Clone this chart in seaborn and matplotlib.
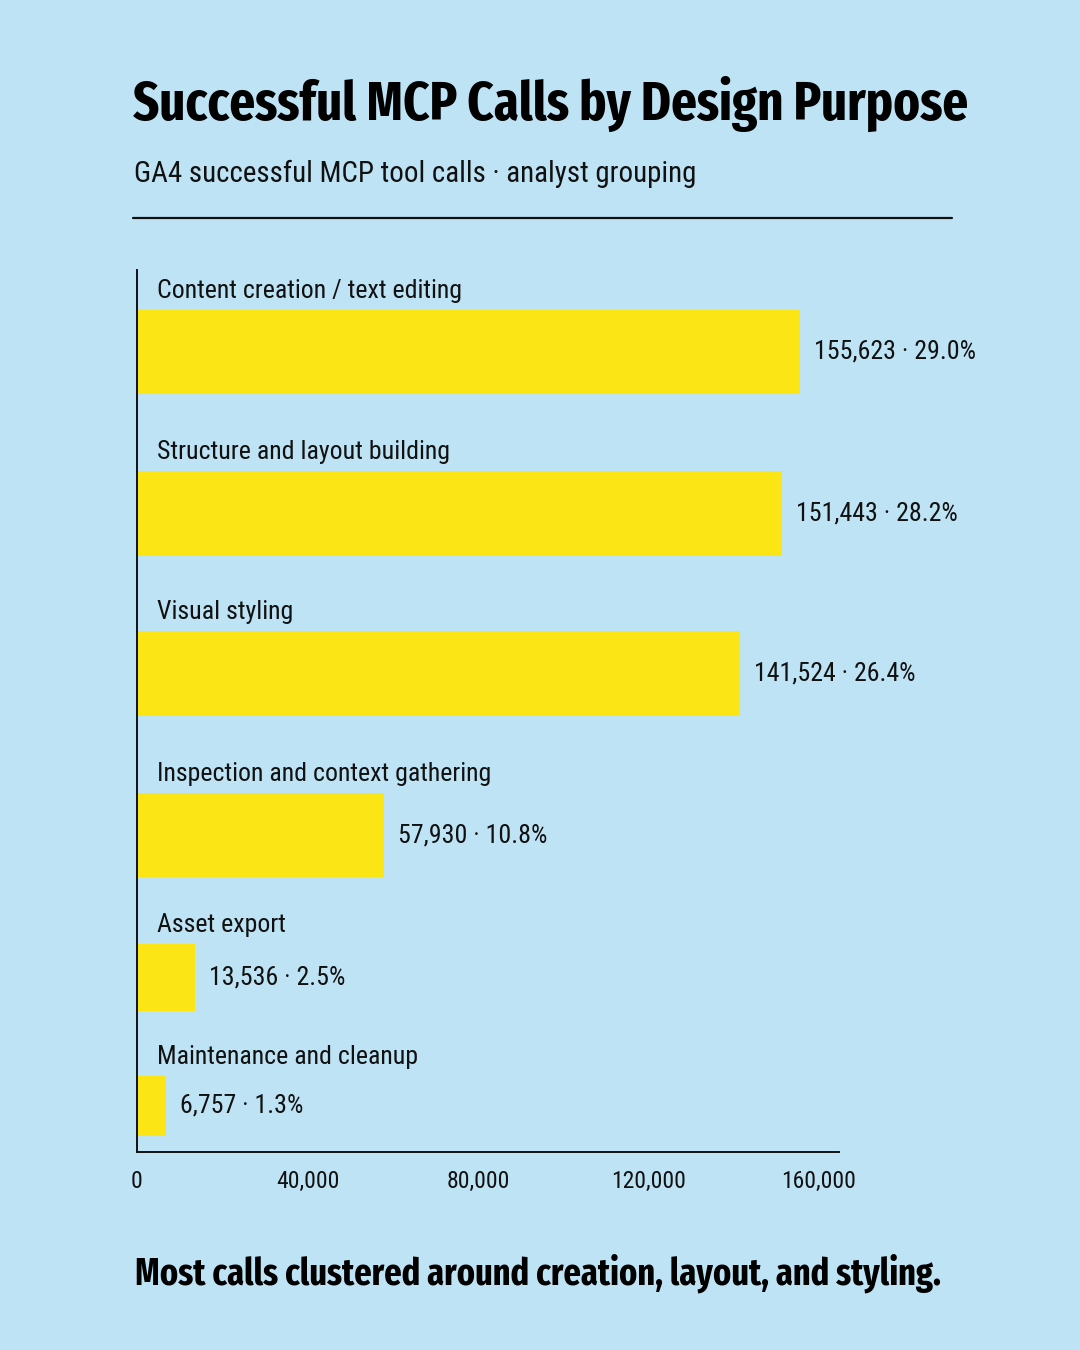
import matplotlib.pyplot as plt
import seaborn as sns
from matplotlib import font_manager
from matplotlib.font_manager import FontProperties
from matplotlib.lines import Line2D

# data
purposes = [
    "Content creation / text editing",
    "Structure and layout building",
    "Visual styling",
    "Inspection and context gathering",
    "Asset export",
    "Maintenance and cleanup",
]
calls = [155623, 151443, 141524, 57930, 13536, 6757]
shares = [29.0, 28.2, 26.4, 10.8, 2.5, 1.3]
xticks = [0, 40000, 80000, 120000, 160000]

title = "Successful MCP Calls by Design Purpose"
subtitle = "GA4 successful MCP tool calls \u00b7 analyst grouping"
footer = "Most calls clustered around creation, layout, and styling."

BG = "#BEE3F5"
YELLOW = "#FCE514"
INK = "#111111"

# layout: rows are spaced unevenly in the reference, bars get thinner at the bottom
row_centers = [0, 1.01, 2.01, 3.02, 3.91, 4.71]
bar_heights = [0.53, 0.53, 0.53, 0.525, 0.42, 0.375]

W, H = 1080, 1350

BODY_FONTS = ["Roboto Condensed", "Archivo Narrow", "PT Sans Narrow",
              "IBM Plex Sans Condensed", "Fira Sans Condensed",
              "Barlow Condensed", "Liberation Sans Narrow", "Saira SemiCondensed"]
# the headline face is much more compressed than the body text
HEAD_FONTS = ["Fira Sans Extra Condensed", "Barlow Condensed",
              "Saira ExtraCondensed", "Encode Sans Compressed",
              "Roboto Condensed", "Archivo Narrow", "Saira SemiCondensed"]


def pick_font(families, bold):
    # first family that has a real file in the wanted weight
    for name in families:
        files = [f for f in font_manager.fontManager.ttflist
                 if f.name == name and f.style == "normal"]
        static = [f for f in files if "[" not in f.fname]
        if bold:
            ok = sorted([f for f in static if 650 <= f.weight <= 800],
                        key=lambda f: abs(f.weight - 700))
        else:
            ok = [f for f in static if 380 <= f.weight <= 420] or \
                 [f for f in files if "[" in f.fname]
        if ok:
            return FontProperties(fname=ok[0].fname)
    return FontProperties(family="DejaVu Sans", weight="bold" if bold else "normal")


def px(x, y):
    return x / W, 1 - y / H


def fit_width(txt, fig, target_px):
    # scale a text until it is about target_px wide
    r = fig.canvas.get_renderer()
    for _ in range(3):
        w = txt.get_window_extent(renderer=r).width
        txt.set_fontsize(txt.get_fontsize() * target_px / w)


sns.set_theme(style="white")
fp_head = pick_font(HEAD_FONTS, True)
fp_reg = pick_font(BODY_FONTS, False)

fig = plt.figure(figsize=(W / 100, H / 100), dpi=100, facecolor=BG)
l, b = px(137, 1152)
r, t = px(839, 270)
ax = fig.add_axes([l, b, r - l, t - b])
ax.set_facecolor(BG)

sns.barplot(x=calls, y=purposes, orient="h", color=YELLOW, saturation=1,
            linewidth=0, ax=ax)
for patch, c, h in zip(ax.patches, row_centers, bar_heights):
    patch.set_y(c - h / 2)
    patch.set_height(h)

ax.set_ylim(5.0, -0.5125)
ax.set_xlim(0, 164700)
ax.set_yticks([])
ax.set_ylabel("")
ax.set_xticks(xticks)
tick_fp = fp_reg.copy()
tick_fp.set_size(17)
ax.set_xticklabels([f"{v:,}" for v in xticks], color=INK, fontproperties=tick_fp)
ax.tick_params(axis="x", direction="in", length=7, width=1.3, color=INK, pad=13)
for side in ["top", "right"]:
    ax.spines[side].set_visible(False)
for side in ["left", "bottom"]:
    ax.spines[side].set_color(INK)
    ax.spines[side].set_linewidth(1.4)

fig.canvas.draw()
label_size = None
for name, v, s, c, h in zip(purposes, calls, shares, row_centers, bar_heights):
    lab = ax.annotate(name, xy=(0, c - h / 2), xytext=(14.4, 8.6),
                      textcoords="offset points", va="baseline", ha="left",
                      fontproperties=fp_reg, color=INK)
    ax.annotate(f"{v:,} \u00b7 {s:.1f}%", xy=(v, c), xytext=(10, 0),
                textcoords="offset points", va="center", ha="left",
                fontproperties=fp_reg, color=INK)
    if label_size is None:
        lab.set_fontsize(20)
        fit_width(lab, fig, 305)
        label_size = lab.get_fontsize()
for txt in ax.texts:
    txt.set_fontsize(label_size)

x0, y0 = px(133, 120)
tt = fig.text(x0, y0, title, fontproperties=fp_head, color="black",
              va="baseline", ha="left")
tt.set_fontsize(50)
fit_width(tt, fig, 835)
x0, y0 = px(134, 182)
st = fig.text(x0, y0, subtitle, fontproperties=fp_reg, color=INK,
              va="baseline", ha="left")
st.set_fontsize(22)
fit_width(st, fig, 563)
x0, y0 = px(135, 1285)
ft = fig.text(x0, y0, footer, fontproperties=fp_head, color="black",
              va="baseline", ha="left")
ft.set_fontsize(32)
fit_width(ft, fig, 807)

xa, ya = px(133, 218)
xb, _ = px(952, 218)
fig.add_artist(Line2D([xa, xb], [ya, ya], color=INK, lw=1.6))

fig.savefig("out.png", dpi=100, facecolor=BG)
